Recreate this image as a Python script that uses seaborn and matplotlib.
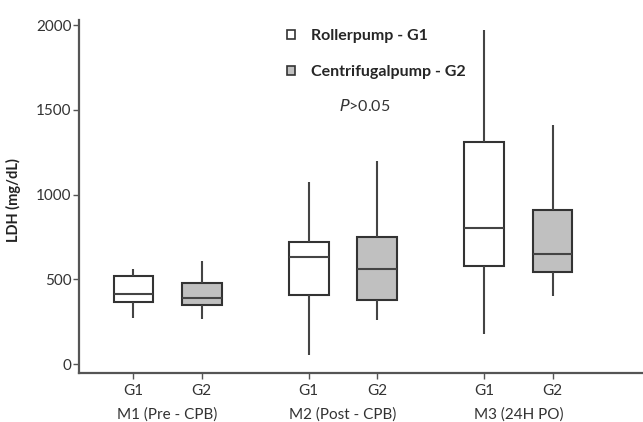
import matplotlib
matplotlib.use("Agg")
import matplotlib.pyplot as plt
from matplotlib.patches import Patch
import pandas as pd
import seaborn as sns

# moments and groups
moments = ["M1 (Pre - CPB)", "M2 (Post - CPB)", "M3 (24H PO)"]
groups = ["G1", "G2"]
legend_labels = ["Rollerpump - G1", "Centrifugalpump - G2"]

# five-number summaries: min, q1, median, q3, max
g1_stats = [
    [273, 364, 413, 519, 559],
    [53, 405, 629, 722, 1072],
    [177, 580, 804, 1308, 1971],
]
g2_stats = [
    [265, 346, 391, 478, 608],
    [260, 379, 562, 751, 1200],
    [403, 541, 647, 909, 1410],
]

y_ticks = [0, 500, 1000, 1500, 2000]

# long table so seaborn computes quartiles from the five points
rows = []
for m, s1, s2 in zip(moments, g1_stats, g2_stats):
    for v in s1:
        rows.append({"moment": m, "group": "G1", "LDH": v})
    for v in s2:
        rows.append({"moment": m, "group": "G2", "LDH": v})
df = pd.DataFrame(rows)

sns.set_style("white")
plt.rcParams["font.family"] = ["Lato", "DejaVu Sans"]

fig = plt.figure(figsize=(6.43, 4.22), dpi=100)
ax = fig.add_axes([79 / 643, 49 / 422, 564 / 643, 353 / 422])

edge = "#333333"
width = 0.78
sns.boxplot(
    data=df, x="moment", y="LDH", hue="group", order=moments, hue_order=groups,
    palette={"G1": "white", "G2": "#c0c0c0"}, linecolor=edge, linewidth=1.5,
    whis=(0, 100), width=width, gap=0.42, showcaps=False, legend=False, ax=ax,
)
for line in ax.lines:
    line.set_color("#444444")

ax.set_xlim(-0.505, 2.71)
ax.set_ylim(-53, 2030)
ax.set_yticks(y_ticks)
ax.tick_params(axis="y", length=4, width=1, color="#555555", pad=1.5,
               labelsize=11, labelcolor="#333333", left=True)

# G1 / G2 ticks under each box
off = width / 4
xpos = []
xlab = []
for i in range(len(moments)):
    for j, g in enumerate(groups):
        xpos.append(i - off if j == 0 else i + off)
        xlab.append(g)
ax.set_xticks(xpos)
ax.set_xticklabels(xlab)
ax.tick_params(axis="x", length=4, width=1, color="#555555", pad=4,
               labelsize=11, labelcolor="#333333", bottom=True)
ax.set_xlabel("")

for i, m in enumerate(moments):
    ax.text(i, -0.118, m, transform=ax.get_xaxis_transform(), ha="center",
            va="center", fontsize=11, color="#333333")

for side in ["top", "right"]:
    ax.spines[side].set_visible(False)
for side in ["left", "bottom"]:
    ax.spines[side].set_color("#555555")
    ax.spines[side].set_linewidth(1.6)

ax.set_ylabel("LDH (mg/dL)", fontsize=10.5, fontweight="bold", color="#222222")
ax.yaxis.set_label_coords(-0.102, 0.49)

handles = [Patch(facecolor="white", edgecolor=edge, linewidth=1.2),
           Patch(facecolor="#c0c0c0", edgecolor=edge, linewidth=1.2)]
leg = ax.legend(handles, legend_labels, loc="upper left",
                bbox_to_anchor=(0.343, 1.015), frameon=False, handlelength=0.5,
                handleheight=0.5, handletextpad=1.0, labelspacing=1.4,
                prop={"family": "Lato", "weight": "bold", "size": 11.5})

ax.text(0.507, 0.756, "$\\it{P}$>0.05", transform=ax.transAxes, ha="center",
        va="center", fontsize=11.5, color="#333333")

fig.savefig("out.png", dpi=100)
